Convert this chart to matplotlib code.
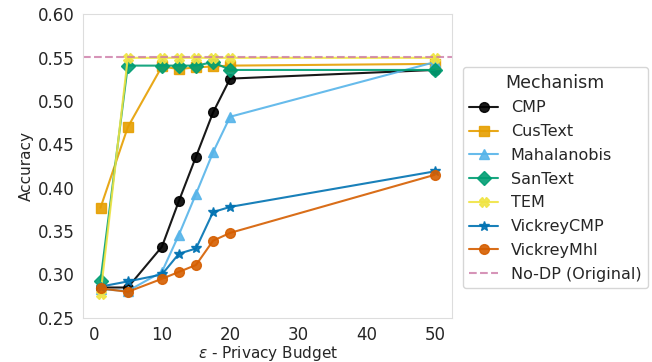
import matplotlib
matplotlib.use("Agg")
import matplotlib.pyplot as plt
import seaborn as sns

epsilons = [1, 5, 10, 12.5, 15, 17.5, 20, 50]

cmp_acc = [0.285, 0.285, 0.332, 0.385, 0.436, 0.487, 0.526, 0.536]
custext_acc = [0.377, 0.470, 0.540, 0.537, 0.539, 0.540, 0.541, 0.543]
mahalanobis_acc = [0.283, 0.281, 0.303, 0.346, 0.393, 0.441, 0.482, 0.545]
santext_acc = [0.293, 0.541, 0.541, 0.541, 0.541, 0.545, 0.536, 0.536]
tem_acc = [0.277, 0.550, 0.550, 0.550, 0.550, 0.550, 0.550, 0.550]
vickreycmp_acc = [0.286, 0.292, 0.300, 0.324, 0.330, 0.372, 0.378, 0.419]
vickreymhl_acc = [0.284, 0.280, 0.295, 0.303, 0.311, 0.339, 0.348, 0.415]
nodp_acc = 0.551

sns.set_style("white")
plt.rcParams["font.family"] = ["DejaVu Sans"]

series = [
    ("CMP", cmp_acc, "black", "o"),
    ("CusText", custext_acc, "#E69F00", "s"),
    ("Mahalanobis", mahalanobis_acc, "#56B4E9", "^"),
    ("SanText", santext_acc, "#009E73", "D"),
    ("TEM", tem_acc, "#F0E442", "X"),
    ("VickreyCMP", vickreycmp_acc, "#0072B2", "*"),
    ("VickreyMhl", vickreymhl_acc, "#D55E00", "o"),
]

fig, ax = plt.subplots(figsize=(6.52, 3.62), dpi=100)
for name, vals, color, marker in series:
    ax.plot(epsilons, vals, color=color, marker=marker, markersize=7,
            linewidth=1.5, alpha=0.9, label=name)
ax.axhline(nodp_acc, color="#CC79A7", linestyle="--", linewidth=1.5,
           alpha=0.8, label="No-DP (Original)")

ax.set_xlim(-1.5, 52.5)
ax.set_ylim(0.25, 0.60)
ax.set_xticks([0, 10, 20, 30, 40, 50])
ax.set_yticks([0.25, 0.30, 0.35, 0.40, 0.45, 0.50, 0.55, 0.60])
ax.tick_params(labelsize=12, colors="#262626", pad=2.5)
ax.set_xlabel(r"$\varepsilon$ - Privacy Budget", fontsize=11, labelpad=0)
ax.set_ylabel("Accuracy", fontsize=11, labelpad=3)
for s in ax.spines.values():
    s.set_color("#dddddd")

ax.legend(title="Mechanism", loc="center left", bbox_to_anchor=(1.008, 0.462),
          fontsize=11.5, title_fontsize=12.5, labelspacing=0.55,
          handlelength=1.8)

fig.subplots_adjust(left=0.128, right=0.693, top=0.96, bottom=0.122)
fig.savefig("out.png", dpi=100)
